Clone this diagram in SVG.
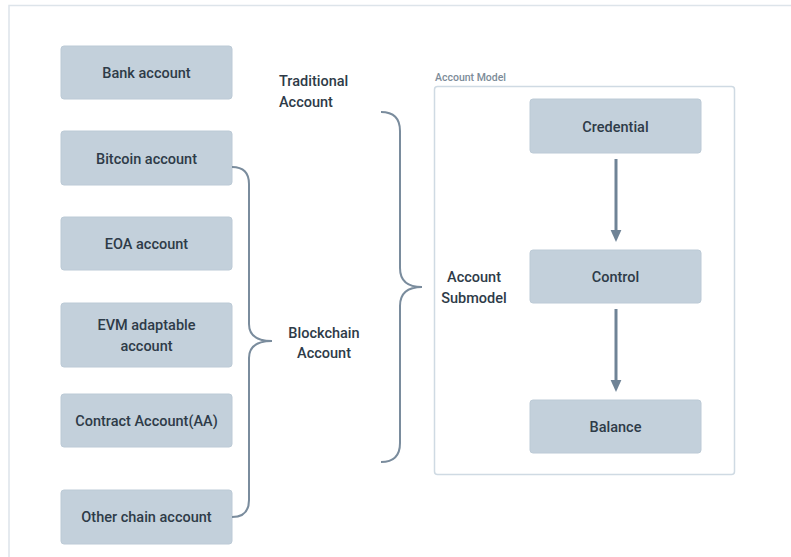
<svg xmlns="http://www.w3.org/2000/svg" width="791" height="557" viewBox="0 0 791 557">
<defs>
<style>
.node rect{fill:#c3d0db;stroke:#bccad6;stroke-width:1}
.t{font-family:Roboto,"Liberation Sans",Arial,sans-serif;font-weight:500;font-size:14.5px;fill:#2e3b48;text-anchor:middle}
.lbl{font-family:Roboto,"Liberation Sans",Arial,sans-serif;font-weight:500;font-size:14.5px;fill:#2e3b48}
.brace{fill:none;stroke:#7a8c9d;stroke-width:2}
.arrow{fill:none;stroke:#6f8396;stroke-width:3}
</style>
<marker id="ah" markerWidth="4" markerHeight="4" refX="2" refY="2" orient="auto" markerUnits="strokeWidth" viewBox="0 0 4 4">
<path d="M0,0.2 L4,2 L0,3.8 z" fill="#6f8396"/>
</marker>
</defs>
<rect width="791" height="557" fill="#ffffff"/>
<path d="M9,557 V5.5 H791" fill="none" stroke="#dde4ea" stroke-width="1.5"/>

<g id="account-model">
<rect x="434.5" y="86.5" width="300" height="388" rx="3" fill="none" stroke="#cfdae3" stroke-width="1.5"/>
<text x="435" y="81" font-family="Roboto,'Liberation Sans',Arial,sans-serif" font-weight="500" font-size="10.5" fill="#7d8c99">Account Model</text>
</g>

<g id="bank" class="node"><rect x="61" y="46" width="171" height="53" rx="3"/><text class="t" x="146.5" y="78">Bank account</text></g>
<g id="bitcoin" class="node"><rect x="61" y="131" width="171" height="54" rx="3"/><text class="t" x="146.5" y="164">Bitcoin account</text></g>
<g id="eoa" class="node"><rect x="61" y="217" width="171" height="53" rx="3"/><text class="t" x="146.5" y="249">EOA account</text></g>
<g id="evm" class="node"><rect x="61" y="303" width="171" height="64" rx="3"/><text class="t" x="146.5" y="330">EVM adaptable</text><text class="t" x="146.5" y="351">account</text></g>
<g id="contract" class="node"><rect x="61" y="394" width="171" height="53" rx="3"/><text class="t" x="146.5" y="426">Contract Account(AA)</text></g>
<g id="other" class="node"><rect x="61" y="490" width="171" height="54" rx="3"/><text class="t" x="146.5" y="522">Other chain account</text></g>

<g id="credential" class="node"><rect x="530" y="99" width="171" height="54" rx="3"/><text class="t" x="615.5" y="132">Credential</text></g>
<g id="control" class="node"><rect x="530" y="250" width="171" height="53" rx="3"/><text class="t" x="615.5" y="282">Control</text></g>
<g id="balance" class="node"><rect x="530" y="400" width="171" height="53" rx="3"/><text class="t" x="615.5" y="432">Balance</text></g>

<g id="traditional-label"><text class="lbl" x="279" y="86">Traditional</text><text class="lbl" x="279" y="107">Account</text></g>
<g id="blockchain-label"><text class="t" x="324" y="338">Blockchain</text><text class="t" x="324" y="358">Account</text></g>
<g id="submodel-label"><text class="t" x="474" y="282">Account</text><text class="t" x="474" y="303">Submodel</text></g>

<g id="connectors">
<path class="brace" d="M232,167 Q249,167 249,184 V324 Q249,341 272,341 Q249,341 249,358 V500 Q249,517 232,517"/>
<path class="brace" d="M381,112 Q400,112 400,131 V268 Q400,287 422,287 Q400,287 400,306 V443 Q400,462 381,462"/>
<path class="arrow" d="M616,159 V236" marker-end="url(#ah)"/>
<path class="arrow" d="M616,309 V386" marker-end="url(#ah)"/>
</g>
</svg>
